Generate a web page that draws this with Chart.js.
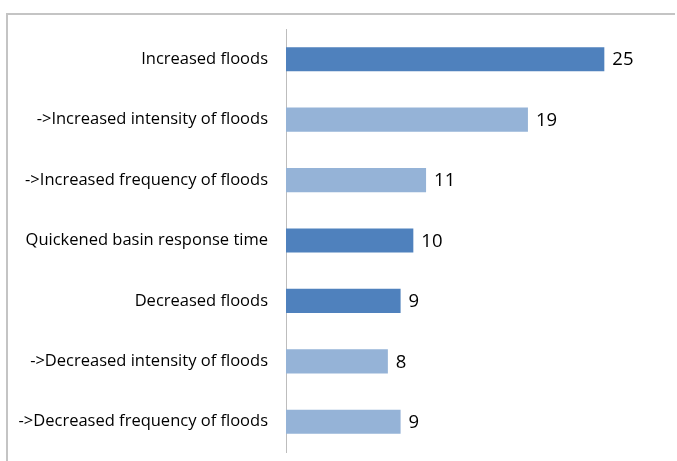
<!DOCTYPE html>
<html>
<head>
<meta charset="utf-8">
<script src="https://cdn.jsdelivr.net/npm/chart.js@4/dist/chart.umd.min.js"></script>
<style>
  html, body { margin: 0; padding: 0; background: #fff; }
  #wrap { position: relative; width: 677px; height: 461px; overflow: hidden; }
  #frame { position: absolute; left: 6px; top: 13px; width: 667px; height: 460px;
           border-top: 2px solid #c4c4c4; border-left: 2px solid #c4c4c4; }
  #myChart { position: absolute; left: 0; top: 0; }
</style>
</head>
<body>
<div id="wrap">
  <div id="frame"></div>
  <canvas id="myChart" width="677" height="461"></canvas>
</div>
<script>
// categories top to bottom, "->" rows are sub-items
const categories = [
  "Increased floods",
  "->Increased intensity of floods",
  "->Increased frequency of floods",
  "Quickened basin response time",
  "Decreased floods",
  "->Decreased intensity of floods",
  "->Decreased frequency of floods"
];
const counts = [25, 19, 11, 10, 9, 8, 9];
const axisMin = 0;
const axisMax = 30;

const darkBlue = '#4f81bd';
const lightBlue = '#95b3d7';

// draw the numbers at the end of each bar
const valueLabels = {
  id: 'valueLabels',
  afterDatasetsDraw(chart) {
    const ctx = chart.ctx;
    const meta = chart.getDatasetMeta(0);
    ctx.save();
    ctx.font = '18.5px "Open Sans"';
    ctx.fillStyle = '#000';
    ctx.textAlign = 'left';
    ctx.textBaseline = 'middle';
    meta.data.forEach((bar, i) => {
      ctx.fillText(String(counts[i]), bar.x + 8, bar.y + 1);
    });
    ctx.restore();
  }
};

var ctx = document.getElementById('myChart').getContext('2d');
var chart = new Chart(ctx, {
    type: 'bar',
    data: {
        labels: categories,
        datasets: [{
            data: counts,
            backgroundColor: categories.map(c => c.startsWith('->') ? lightBlue : darkBlue),
            barPercentage: 0.4,
            categoryPercentage: 1.0
        }]
    },
    options: {
        indexAxis: 'y',
        responsive: false,
        animation: false,
        layout: { padding: { top: 29, bottom: 9, left: 0, right: 9 } },
        plugins: {
            legend: { display: false },
            tooltip: { enabled: false }
        },
        scales: {
            x: {
                display: false,
                min: axisMin,
                max: axisMax
            },
            y: {
                afterFit: function(scale) {
                    scale.width = 286;
                    scale.paddingTop = 0;
                    scale.paddingBottom = 0;
                },
                grid: { display: false, drawTicks: false },
                border: { display: true, color: '#bdbdbd', width: 1 },
                ticks: {
                    padding: 18,
                    color: '#000',
                    font: { family: '"Open Sans"', size: 16.5 }
                }
            }
        }
    },
    plugins: [valueLabels]
});
</script>
</body>
</html>
